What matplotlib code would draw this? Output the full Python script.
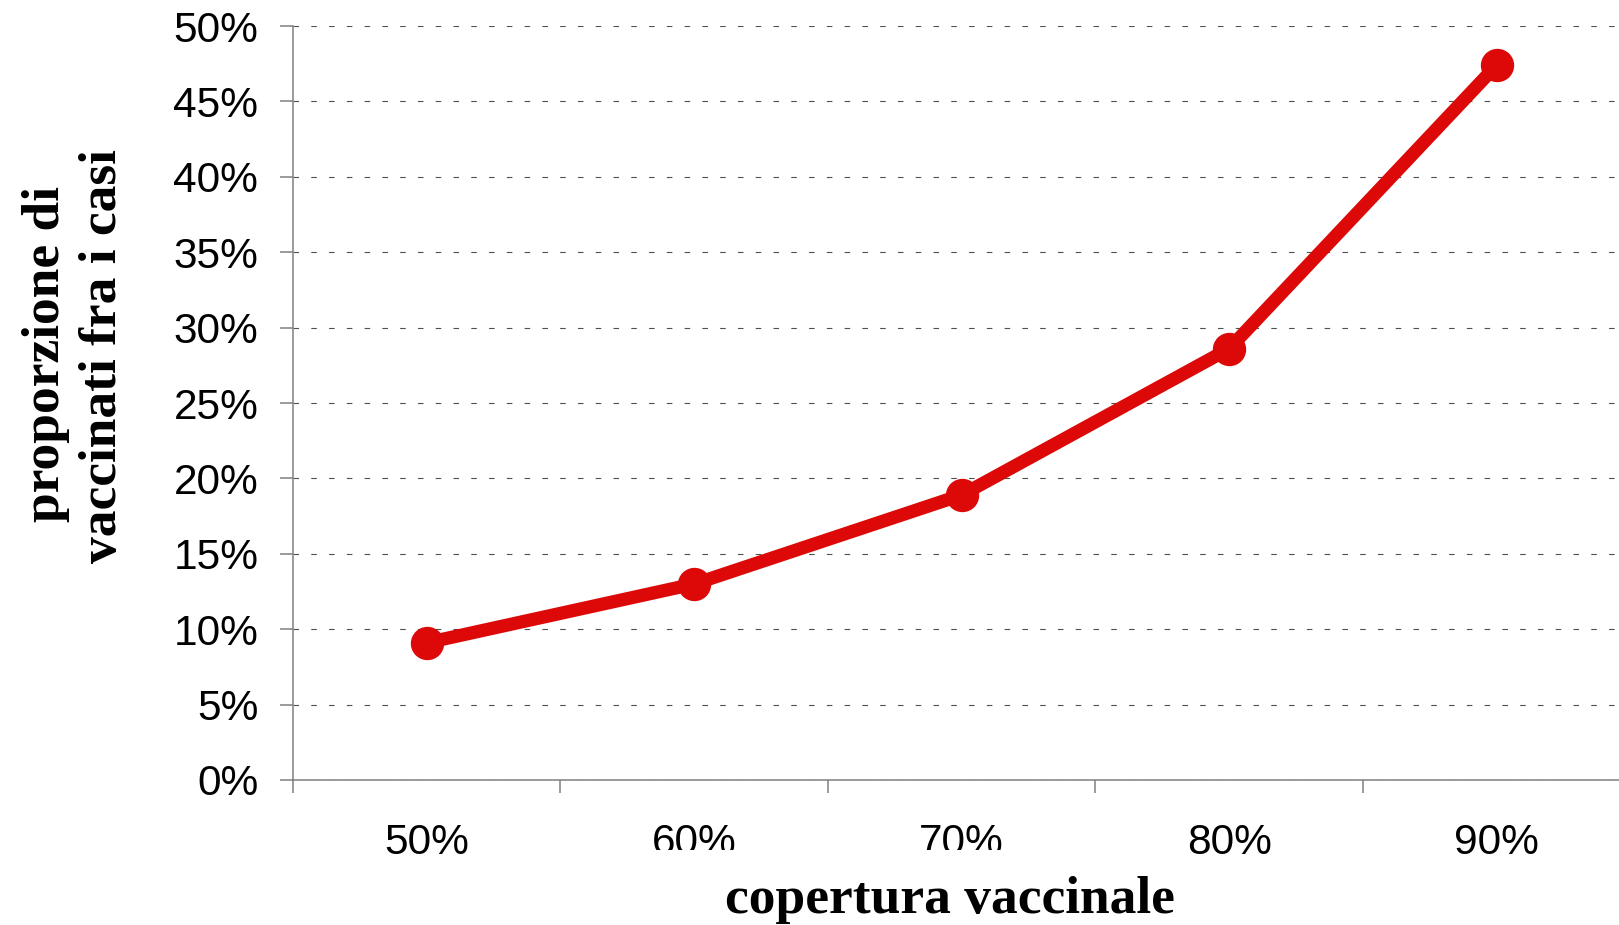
import matplotlib.pyplot as plt
from matplotlib.patches import Rectangle
from matplotlib.ticker import FixedLocator, PercentFormatter

# copertura vaccinale vs quota di vaccinati fra i casi
coverage = ['50%', '60%', '70%', '80%', '90%']
vacc_share = [9.1, 13.0, 18.9, 28.6, 47.4]

red = '#dd0808'
axis_grey = '#808080'

fig = plt.figure(figsize=(16.19, 9.25), dpi=100)
ax = fig.add_axes([0.181, 0.1568, 0.826, 0.815])

x = range(len(coverage))
ax.plot(x, vacc_share, color=red, lw=9.5, marker='o', ms=23,
        solid_capstyle='round', zorder=3)

ax.set_xlim(-0.5, len(coverage) - 0.5)
ax.set_ylim(0, 50)

# y axis: percent ticks every 5, dashed grid
ax.set_yticks(range(0, 51, 5))
ax.yaxis.set_major_formatter(PercentFormatter(decimals=0))
ax.grid(axis='y', color='#505050', lw=0.8, ls=(0, (5, 11)))
ax.set_axisbelow(True)

# x axis: ticks on category boundaries, labels centred in between
ax.xaxis.set_major_locator(FixedLocator([i - 0.5 for i in range(len(coverage) + 1)]))
ax.xaxis.set_minor_locator(FixedLocator(list(x)))
ax.set_xticklabels([], minor=False)
ax.set_xticklabels(coverage, minor=True)

for s in ['top', 'right']:
    ax.spines[s].set_visible(False)
for s in ['left', 'bottom']:
    ax.spines[s].set_color(axis_grey)
    ax.spines[s].set_linewidth(1.1)

ax.tick_params(axis='both', which='major', direction='out', length=9.5,
               width=1.1, color=axis_grey)
ax.tick_params(axis='y', pad=15.5, labelsize=30.5)
ax.tick_params(axis='x', which='minor', length=0, pad=31, labelsize=30.5)
for lab in ax.get_yticklabels() + ax.get_xticklabels(minor=True):
    lab.set_fontfamily('Liberation Sans')

# white box behind the x title (overlaps the bottom of two tick labels)
fig.patches.append(Rectangle((0.37, 0.0), 0.36, 0.0811, transform=fig.transFigure,
                             facecolor='white', edgecolor='none', zorder=5))

title_font = {'family': 'Liberation Serif', 'weight': 'bold', 'size': 38.5}
fig.text(950 / 1619, 0.013, 'copertura vaccinale', ha='center', va='baseline',
         zorder=6, **title_font)
fig.text(46 / 1619, 1 - 354 / 925, 'proporzione di', rotation=90,
         ha='center', va='center', **title_font)
fig.text(103 / 1619, 1 - 356 / 925, 'vaccinati fra i casi', rotation=90,
         ha='center', va='center', **title_font)

fig.savefig('out.png', dpi=100)
